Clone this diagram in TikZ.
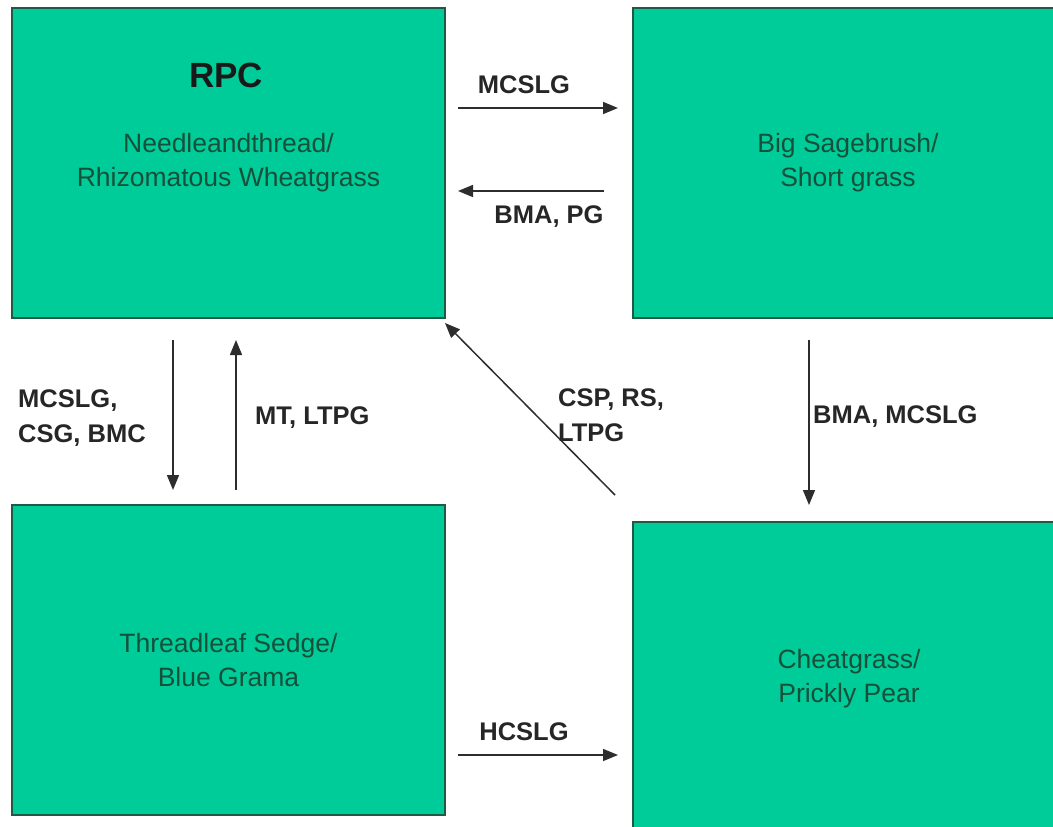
\documentclass[tikz,border=0pt]{standalone}
\usepackage{fontspec}
\setmainfont{Liberation Sans}
\usetikzlibrary{arrows.meta}
\definecolor{boxfill}{RGB}{0,204,153}
\definecolor{boxline}{RGB}{30,90,68}
\definecolor{boxtext}{RGB}{22,80,58}
\definecolor{arrcol}{RGB}{45,45,45}
\tikzset{
  statebox/.style={draw=boxline, line width=2pt, fill=boxfill, rectangle,
    inner sep=0pt, outer sep=0pt, text=boxtext, align=center,
    font=\fontsize{26.5}{34}\selectfont},
  arr/.style={draw=arrcol, line width=1.5pt, -{Triangle[length=15pt,width=12pt]}},
  lbl/.style={font=\bfseries\fontsize{25.5}{35}\selectfont, text=black!85, inner sep=0pt, align=left},
}
\begin{document}
\begin{tikzpicture}[x=1pt,y=-1pt]
\useasboundingbox (0,0) rectangle (1053,827);
\fill[white] (0,0) rectangle (1053,827);
% boxes
\node[statebox, minimum width=433pt, minimum height=310pt] (b1) at (228.5,163) {Needleandthread/\\Rhizomatous Wheatgrass};
\node[statebox, minimum width=430pt, minimum height=310pt] (b2) at (848,163) {Big Sagebrush/\\Short grass};
\node[statebox, minimum width=433pt, minimum height=310pt] (b3) at (228.5,660) {Threadleaf Sedge/\\Blue Grama};
\node[statebox, minimum width=432pt, minimum height=313pt] (b4) at (849,678.5) {Cheatgrass/\\Prickly Pear};
\node[font=\bfseries\fontsize{35}{40}\selectfont, text=black!90, inner sep=0pt] (rpc) at (226,75) {RPC};
% connectors
\draw[arr] ([shift={(13,100)}]b1.north east) -- ([shift={(-15,100)}]b2.north west);
\draw[arr] ([shift={(-29,183)}]b2.north west) -- ([shift={(13,183)}]b1.north east);
\draw[arr] ([shift={(161,22)}]b1.south west) -- ([shift={(161,-15)}]b3.north west);
\draw[arr] ([shift={(224,-15)}]b3.north west) -- ([shift={(224,22)}]b1.south west);
\draw[arr] ([shift={(-18,-27)}]b4.north west) -- ([shift={(0,5)}]b1.south east);
\draw[arr] ([shift={(176,22)}]b2.south west) -- ([shift={(176,-17)}]b4.north west);
\draw[arr] ([shift={(13,-60)}]b3.south east) -- ([shift={(-15,233)}]b4.north west);
% labels
\node[lbl] (l1) at (524,85) {MCSLG};
\node[lbl] (l2) at (549,217) {BMA, PG};
\node[lbl, anchor=west] (l3) at (18,418) {MCSLG,\\CSG, BMC};
\node[lbl, anchor=west] (l4) at (255,418) {MT, LTPG};
\node[lbl, anchor=west] (l5) at (558,415) {CSP, RS,\\LTPG};
\node[lbl, anchor=west] (l6) at (813,417) {BMA, MCSLG};
\node[lbl] (l7) at (524,732) {HCSLG};
\end{tikzpicture}
\end{document}
